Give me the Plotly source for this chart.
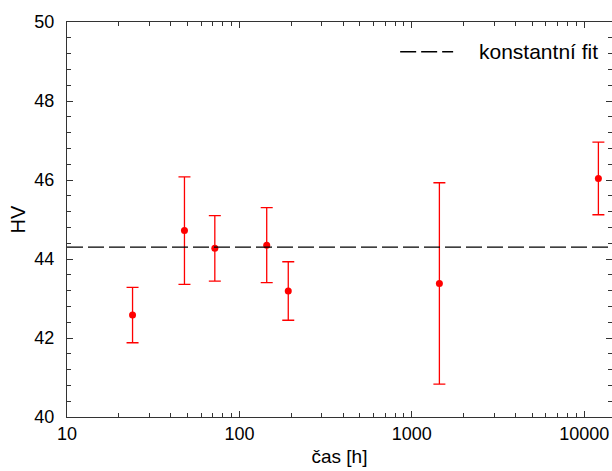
import plotly.graph_objects as go

# Hardness measurements vs. ageing time
time_h = [24, 48, 72, 144, 192, 1445, 12080]
hv = [42.58, 44.72, 44.27, 44.35, 43.19, 43.38, 46.04]
hv_err = [0.70, 1.36, 0.83, 0.95, 0.74, 2.55, 0.92]

# Constant fit value
fit_hv = 44.30

x_tickvals = [10, 100, 1000, 10000]
x_ticktext = ["10", "100", "1000", "10000"]
y_tickvals = [40, 42, 44, 46, 48, 50]

FONT = "Liberation Sans, Arial, sans-serif"
AXIS_COLOR = "#333333"

fig = go.Figure()

fig.add_trace(go.Scatter(
    x=time_h, y=hv, mode="markers",
    marker=dict(color="#ff0000", size=7),
    error_y=dict(type="data", array=hv_err, visible=True,
                 color="#ff0000", thickness=1.3, width=6),
    showlegend=False,
))

# Constant fit across the full x range
fig.add_shape(type="line", xref="paper", yref="y",
              x0=0, x1=1, y0=fit_hv, y1=fit_hv,
              line=dict(color="black", width=1.4, dash="16px,5px"))

# Legend entry: dashed sample plus label
fig.add_shape(type="line", xref="paper", yref="paper",
              x0=0.6113, x1=0.7085, y0=0.9248, y1=0.9248,
              line=dict(color="black", width=1.4, dash="16px,5px"))
fig.add_annotation(text="konstantní fit", xref="paper", yref="paper",
                   x=0.7525, y=0.9248, xanchor="left", yanchor="middle",
                   showarrow=False, font=dict(family=FONT, size=21, color="black"))

fig.update_xaxes(
    type="log", range=[1, 4.161],
    tickvals=x_tickvals, ticktext=x_ticktext,
    ticks="inside", ticklen=6, tickwidth=1.2, tickcolor=AXIS_COLOR,
    minor=dict(ticks="inside", ticklen=3.5, tickwidth=1, tickcolor=AXIS_COLOR, dtick="D1"),
    showline=True, linecolor=AXIS_COLOR, linewidth=1.3, mirror="allticks",
    showgrid=False, zeroline=False,
    tickfont=dict(family=FONT, size=18, color="black"),
    title=dict(text="čas [h]", font=dict(family=FONT, size=19, color="black"), standoff=6),
)
fig.update_yaxes(
    range=[40, 50], tickvals=y_tickvals,
    ticks="inside", ticklen=6, tickwidth=1.2, tickcolor=AXIS_COLOR,
    minor=dict(ticks="inside", ticklen=3.5, tickwidth=1, tickcolor=AXIS_COLOR, dtick=0.4),
    showline=True, linecolor=AXIS_COLOR, linewidth=1.3, mirror="allticks",
    showgrid=False, zeroline=False,
    tickfont=dict(family=FONT, size=18, color="black"),
    ticklabelstandoff=8,
    title=dict(text="HV", font=dict(family=FONT, size=20, color="black"), standoff=3),
)

fig.update_layout(
    width=612, height=471,
    margin=dict(l=67, r=0, t=22, b=54),
    paper_bgcolor="white", plot_bgcolor="white",
    showlegend=False,
)

fig.write_html("out.html")
